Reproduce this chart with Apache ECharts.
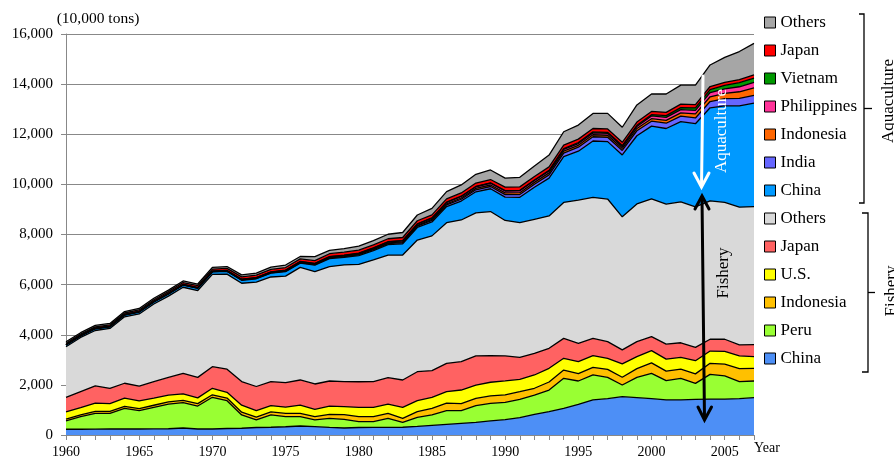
<!DOCTYPE html>
<html>
<head>
<meta charset="utf-8">
<script src="https://cdn.jsdelivr.net/npm/echarts@6/dist/echarts.min.js"></script>
<style>
  html, body { margin: 0; padding: 0; background: #fff; }
  #chart { width: 894px; height: 464px; }
</style>
</head>
<body>
<div id="chart"></div>
<script>
// Years on the horizontal axis
const years = [];
for (let y = 1960; y <= 2007; y++) years.push(String(y));

// Capture fisheries, 10,000 tons
const fishChina = [230,230,235,240,240,240,245,250,280,240,240,260,270,300,310,330,
  360,335,305,280,300,305,305,310,345,385,425,465,505,560,610,690,
  825,930,1065,1225,1400,1450,1530,1490,1450,1400,1400,1425,1435,1435,1450,1490];
const fishPeru = [330,500,630,625,825,730,860,985,1010,915,1265,1110,530,300,490,400,
  370,265,360,345,235,225,360,195,360,415,545,505,665,705,695,735,
  770,865,1195,930,995,850,465,810,1010,770,860,635,985,920,680,665];
const fishIndonesia = [70,72,75,78,80,80,82,85,90,95,100,105,110,115,120,130,
  135,130,160,190,195,200,200,160,225,265,300,285,290,295,295,305,
  270,320,330,290,300,320,310,350,420,380,370,380,440,470,520,505];
const fishUS = [290,290,330,310,330,310,280,275,260,230,260,230,280,260,250,250,
  330,295,330,315,370,375,370,440,440,440,460,540,530,545,560,490,
  530,545,470,480,470,440,530,475,485,475,470,525,490,515,505,465];
const fishJapan = [580,640,690,610,590,590,660,700,820,820,860,920,940,960,960,980,
  1000,1010,1000,1000,1025,1025,1050,1090,1155,1065,1130,1130,1170,1065,1000,880,
  865,800,795,730,690,665,560,600,560,600,580,530,470,480,440,480];
const fishOthers = [2020,2160,2210,2390,2650,2880,3100,3245,3435,3465,3685,3795,3925,4165,4175,4250,
  4495,4480,4560,4655,4680,4855,4895,4985,5255,5375,5610,5655,5705,5745,5400,5370,
  5345,5280,5425,5720,5625,5690,5310,5495,5495,5590,5625,5610,5520,5465,5495,5505];

// Aquaculture, 10,000 tons
const aquaChina = [70,65,70,65,70,75,80,85,85,85,95,105,120,135,150,180,
  170,260,325,305,355,375,415,450,500,555,645,755,840,910,930,1015,
  1280,1510,1825,1950,2250,2290,2470,2720,2905,3015,3200,3315,3715,3845,4045,4130];
const aquaIndia = [4,4,5,5,5,6,6,7,8,9,10,11,12,14,16,18,
  20,22,25,28,32,36,40,45,52,60,66,72,80,90,100,110,
  120,130,140,160,170,175,180,200,195,210,220,230,250,290,300,310];
const aquaIndonesia = [6,6,7,7,8,8,9,9,10,10,11,12,13,14,15,16,
  17,18,20,22,24,26,28,30,35,40,45,50,55,60,70,72,
  75,78,80,75,80,80,80,90,100,115,130,160,190,210,260,300];
const aquaPhilippines = [5,5,6,6,7,7,8,8,9,10,11,12,13,14,16,18,
  20,25,28,30,33,36,40,45,48,50,55,60,65,70,75,75,
  75,75,75,70,75,75,70,80,110,120,130,145,170,180,200,220];
const aquaVietnam = [3,3,3,3,3,3,3,3,4,4,4,4,4,4,5,5,
  5,5,5,6,6,6,7,8,9,10,11,12,13,14,16,18,
  20,25,30,40,40,42,45,48,50,70,80,95,115,140,165,170];
const aquaJapan = [50,52,55,58,60,62,65,68,72,75,80,85,90,95,100,105,
  105,110,115,118,120,120,120,122,125,125,128,130,135,135,140,140,
  140,140,140,135,135,135,130,130,130,130,135,130,125,120,120,125];
const aquaOthers = [60,55,55,55,55,58,60,62,64,66,70,72,80,85,90,100,
  95,160,130,140,160,170,180,200,230,260,290,320,350,380,360,380,
  420,470,530,560,600,620,600,680,700,730,760,780,860,1000,1120,1262];

// Layers from the bottom of the stack upwards: [key, data, colour]
const layers = [
  ['Fishery|China', fishChina, '#4D8FF6'],
  ['Fishery|Peru', fishPeru, '#99FF33'],
  ['Fishery|Indonesia', fishIndonesia, '#FFC000'],
  ['Fishery|U.S.', fishUS, '#FFFF00'],
  ['Fishery|Japan', fishJapan, '#FF6262'],
  ['Fishery|Others', fishOthers, '#D9D9D9'],
  ['Aquaculture|China', aquaChina, '#0099FF'],
  ['Aquaculture|India', aquaIndia, '#6666FF'],
  ['Aquaculture|Indonesia', aquaIndonesia, '#FF6600'],
  ['Aquaculture|Philippines', aquaPhilippines, '#FF3399'],
  ['Aquaculture|Vietnam', aquaVietnam, '#009900'],
  ['Aquaculture|Japan', aquaJapan, '#FF0000'],
  ['Aquaculture|Others', aquaOthers, '#A6A6A6']
];

const serif = '"Liberation Serif", "Times New Roman", serif';

const series = layers.map(([name, data, color]) => ({
  name: name,
  type: 'line',
  stack: 'total',
  data: data,
  color: color,
  symbol: 'none',
  lineStyle: { color: '#000', width: 1.3 },
  areaStyle: { color: color, opacity: 1 },
  emphasis: { disabled: true },
  silent: true
}));

const chart = echarts.init(document.getElementById('chart'), null, { renderer: 'canvas' });

chart.setOption({
  animation: false,
  backgroundColor: '#fff',
  grid: { left: 66, right: 140, top: 34, bottom: 29 },
  xAxis: {
    type: 'category',
    data: years,
    boundaryGap: false,
    name: 'Year',
    nameLocation: 'end',
    nameGap: 0,
    nameTextStyle: { color: '#000', fontFamily: serif, fontSize: 14, verticalAlign: 'top', padding: [6, 0, 0, 0] },
    axisLine: { lineStyle: { color: '#888', width: 1 } },
    axisTick: { interval: 0, length: 5, lineStyle: { color: '#888' } },
    axisLabel: { interval: 4, margin: 10, color: '#000', fontFamily: serif, fontSize: 14 },
    splitLine: { show: false }
  },
  yAxis: {
    type: 'value',
    min: 0,
    max: 16000,
    interval: 2000,
    name: '(10,000 tons)',
    nameLocation: 'end',
    nameGap: 5,
    nameTextStyle: { color: '#000', fontFamily: serif, fontSize: 15.5, align: 'center', padding: [0, 0, 0, 64] },
    axisLine: { show: true, lineStyle: { color: '#888', width: 1 } },
    axisTick: { show: true, length: 5, lineStyle: { color: '#888' } },
    axisLabel: {
      margin: 13, color: '#000', fontFamily: serif, fontSize: 15,
      formatter: v => String(v).replace(/\B(?=(\d{3})+(?!\d))/g, ',')
    },
    splitLine: { lineStyle: { color: '#888', width: 1 } }
  },
  legend: {
    orient: 'vertical',
    left: 764,
    top: 14,
    padding: 0,
    itemGap: 11,
    itemWidth: 11,
    itemHeight: 11,
    icon: 'rect',
    selectedMode: false,
    itemStyle: { borderColor: '#000', borderWidth: 1 },
    textStyle: { color: '#000', fontFamily: serif, fontSize: 17, lineHeight: 17 },
    formatter: name => name.split('|')[1],
    data: layers.slice().reverse().map(l => l[0])
  },
  graphic: [
    // white arrow over the aquaculture band
    { type: 'line', shape: { x1: 703, y1: 76, x2: 701.5, y2: 186 }, style: { stroke: '#fff', lineWidth: 3, lineCap: 'round' }, z: 100 },
    { type: 'polyline', shape: { points: [[694, 173], [701.5, 187], [709, 173]] }, style: { stroke: '#fff', lineWidth: 3, lineCap: 'round', fill: null }, z: 100 },
    { type: 'text', x: 721.5, y: 131, rotation: Math.PI / 2, style: { text: 'Aquaculture', fill: '#fff', font: '17px ' + serif, align: 'center', verticalAlign: 'middle' }, z: 100 },
    // black double arrow over the fishery band
    { type: 'line', shape: { x1: 702, y1: 197, x2: 704.5, y2: 419 }, style: { stroke: '#000', lineWidth: 3, lineCap: 'round' }, z: 100 },
    { type: 'polyline', shape: { points: [[695, 209], [702, 196], [709, 209]] }, style: { stroke: '#000', lineWidth: 3, lineCap: 'round', fill: null }, z: 100 },
    { type: 'polyline', shape: { points: [[698, 407], [704.5, 420], [711.5, 407]] }, style: { stroke: '#000', lineWidth: 3, lineCap: 'round', fill: null }, z: 100 },
    { type: 'text', x: 723.5, y: 273, rotation: Math.PI / 2, style: { text: 'Fishery', fill: '#000', font: '17px ' + serif, align: 'center', verticalAlign: 'middle' }, z: 100 },
    // group brackets beside the legend
    { type: 'polyline', shape: { points: [[859, 14], [864, 14], [864, 203], [859, 203]] }, style: { stroke: '#000', lineWidth: 1.3, fill: null } },
    { type: 'line', shape: { x1: 864, y1: 108.5, x2: 872, y2: 108.5 }, style: { stroke: '#000', lineWidth: 1.3 } },
    { type: 'text', x: 888.5, y: 101, rotation: Math.PI / 2, style: { text: 'Aquaculture', fill: '#000', font: '17px ' + serif, align: 'center', verticalAlign: 'middle' } },
    { type: 'polyline', shape: { points: [[862, 213], [868, 213], [868, 372], [862, 372]] }, style: { stroke: '#000', lineWidth: 1.3, fill: null } },
    { type: 'line', shape: { x1: 868, y1: 292.5, x2: 875, y2: 292.5 }, style: { stroke: '#000', lineWidth: 1.3 } },
    { type: 'text', x: 891.5, y: 291, rotation: Math.PI / 2, style: { text: 'Fishery', fill: '#000', font: '17px ' + serif, align: 'center', verticalAlign: 'middle' } }
  ],
  series: series
});
</script>
</body>
</html>
